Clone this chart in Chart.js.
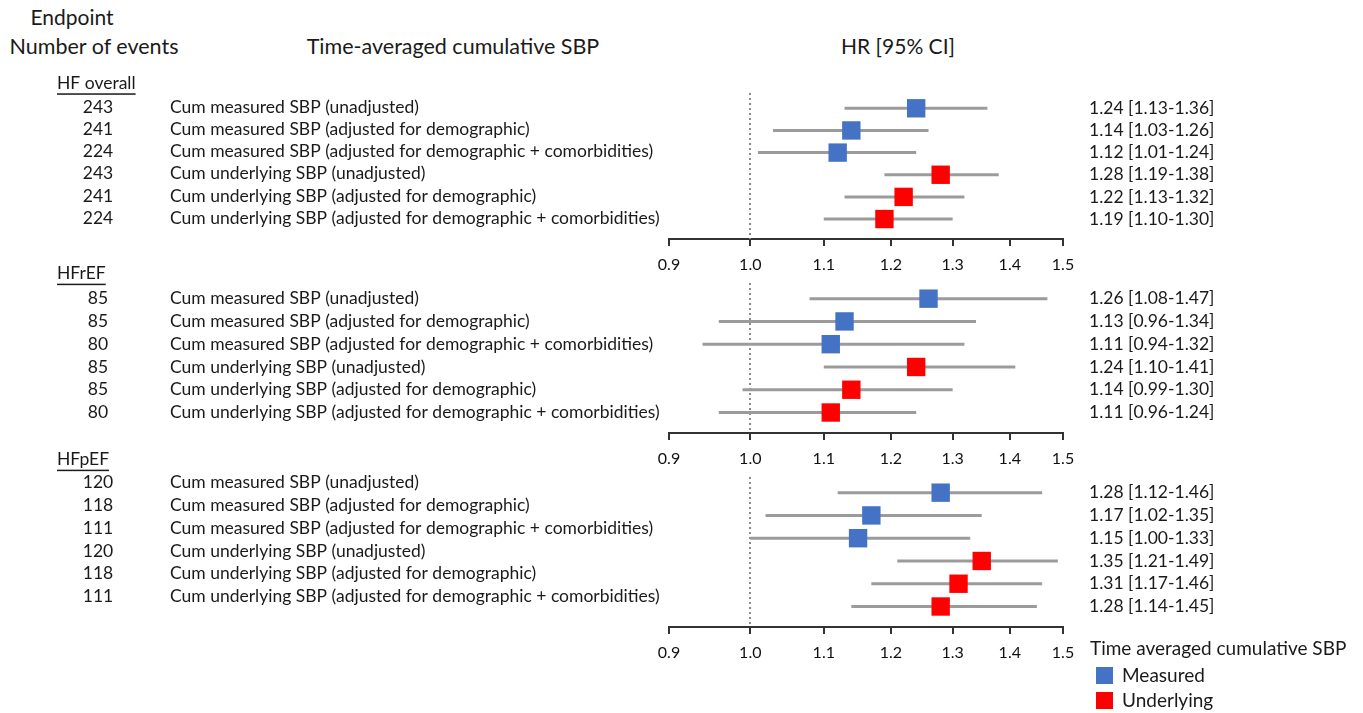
<!DOCTYPE html>
<html>
<head>
<meta charset="utf-8">
<title>Time-averaged cumulative SBP and HF</title>
<script src="https://cdn.jsdelivr.net/npm/chart.js@4.4.0/dist/chart.umd.min.js"></script>
<style>
  body { margin: 0; background: #fff; font-family: Lato, sans-serif; color: #1a1a1a; }
  #page { position: relative; width: 1363px; height: 713px; overflow: hidden; }
  .panel { position: absolute; left: 0; }
  .txt { position: absolute; white-space: nowrap; line-height: 24px; }
  .c { transform: translateX(-50%); }
  .sq { position: absolute; width: 17px; height: 17px; }
</style>
</head>
<body>
<div id="page">
  <div class="txt c" style="left:72px; top:5px; font-size:21px;">Endpoint</div>
  <div class="txt c" style="left:94px; top:34px; font-size:21.5px;">Number of events</div>
  <div class="txt c" style="left:453px; top:34px; font-size:21.5px;">Time-averaged cumulative SBP</div>
  <div class="txt c" style="left:898px; top:34px; font-size:21px;">HR [95% CI]</div>

  <canvas id="p1" class="panel"></canvas>
  <canvas id="p2" class="panel"></canvas>
  <canvas id="p3" class="panel"></canvas>

  <div class="txt" style="left:1090px; top:636px; font-size:19px;">Time averaged cumulative SBP</div>
  <div class="sq" style="left:1096px; top:667px; background:#4472c4;"></div>
  <div class="txt" style="left:1122px; top:663px; font-size:19px;">Measured</div>
  <div class="sq" style="left:1096px; top:692px; background:#ff0000;"></div>
  <div class="txt" style="left:1122px; top:688px; font-size:19px;">Underlying</div>
</div>

<script>
const rowLabels = [
  "Cum measured SBP (unadjusted)",
  "Cum measured SBP (adjusted for demographic)",
  "Cum measured SBP (adjusted for demographic + comorbidities)",
  "Cum underlying SBP (unadjusted)",
  "Cum underlying SBP (adjusted for demographic)",
  "Cum underlying SBP (adjusted for demographic + comorbidities)",
];
const rowType = ["Measured", "Measured", "Measured", "Underlying", "Underlying", "Underlying"];
const xTicks = [0.9, 1.0, 1.1, 1.2, 1.3, 1.4, 1.5];

// HF overall
const overallEvents = [243, 241, 224, 243, 241, 224];
const overallHR = [1.24, 1.14, 1.12, 1.28, 1.22, 1.19];
const overallLo = [1.13, 1.03, 1.01, 1.19, 1.13, 1.10];
const overallHi = [1.36, 1.26, 1.24, 1.38, 1.32, 1.30];

// HFrEF
const hfrefEvents = [85, 85, 80, 85, 85, 80];
const hfrefHR = [1.26, 1.13, 1.11, 1.24, 1.14, 1.11];
const hfrefLo = [1.08, 0.96, 0.94, 1.10, 0.99, 0.96];
const hfrefHi = [1.47, 1.34, 1.32, 1.41, 1.30, 1.24];

// HFpEF
const hfpefEvents = [120, 118, 111, 120, 118, 111];
const hfpefHR = [1.28, 1.17, 1.15, 1.35, 1.31, 1.28];
const hfpefLo = [1.12, 1.02, 1.00, 1.21, 1.17, 1.14];
const hfpefHi = [1.46, 1.35, 1.33, 1.49, 1.46, 1.45];

const colors = { Measured: "#4472c4", Underlying: "#ff0000" };

const panels = [
  { id: "p1", title: "HF overall", events: overallEvents, hr: overallHR, lo: overallLo, hi: overallHi,
    top: 0, areaTop: 95, areaBottom: 239, textShift: -1, titleY: -25 },
  { id: "p2", title: "HFrEF", events: hfrefEvents, hr: hfrefHR, lo: hfrefLo, hi: hfrefHi,
    top: 255, areaTop: 285, areaBottom: 433, textShift: 0, titleY: -25 },
  { id: "p3", title: "HFpEF", events: hfpefEvents, hr: hfpefHR, lo: hfpefLo, hi: hfpefHi,
    top: 440, areaTop: 479, areaBottom: 627, textShift: -10, titleY: -33 },
];

const fmt = (v) => v.toFixed(2);

function sidePlugin(p) {
  return {
    id: "side-" + p.id,
    beforeDatasetsDraw(chart) {
      // dotted reference line at HR = 1
      const { ctx, chartArea, scales } = chart;
      const px = Math.round(scales.x.getPixelForValue(1.0));
      ctx.save();
      ctx.strokeStyle = "#8a8a8a";
      ctx.lineWidth = 2;
      ctx.setLineDash([2, 3]);
      ctx.beginPath();
      ctx.moveTo(px, chartArea.top - 2);
      ctx.lineTo(px, chartArea.bottom);
      ctx.stroke();
      ctx.restore();
    },
    afterDraw(chart) {
      const { ctx, scales: { y } } = chart;
      ctx.save();
      ctx.fillStyle = "#1a1a1a";
      ctx.textBaseline = "middle";
      ctx.font = "17.5px Lato";

      // section title, underlined
      const ty = y.getPixelForValue(0) + p.titleY;
      ctx.textAlign = "left";
      ctx.fillText(p.title, 57, ty);
      const w = ctx.measureText(p.title).width;
      ctx.fillRect(57, ty + 10, w, 1.5);

      p.hr.forEach((v, i) => {
        const py = y.getPixelForValue(i);
        ctx.textAlign = "center";
        ctx.fillText(String(p.events[i]), 98, py + p.textShift);
        ctx.textAlign = "left";
        ctx.fillText(rowLabels[i], 170, py + p.textShift);
        ctx.fillText(`${fmt(v)} [${fmt(p.lo[i])}-${fmt(p.hi[i])}]`, 1089, py);
      });
      ctx.restore();
    },
  };
}

panels.forEach((p) => {
  const canvas = document.getElementById(p.id);
  const height = p.areaBottom - p.top + 40;
  canvas.width = 1363;
  canvas.height = height;
  canvas.style.top = p.top + "px";

  const ciSets = p.hr.map((v, i) => ({
    type: "scatter",
    label: "CI " + i,
    data: [{ x: p.lo[i], y: i }, { x: p.hi[i], y: i }],
    showLine: true,
    borderColor: "#9b9b9b",
    borderWidth: 3,
    pointRadius: 0,
    order: 2,
  }));

  const markerSets = ["Measured", "Underlying"].map((t) => ({
    type: "scatter",
    label: t,
    data: p.hr.map((v, i) => ({ x: v, y: i })).filter((d, i) => rowType[i] === t),
    pointStyle: "rect",
    pointRadius: 13,
    backgroundColor: colors[t],
    borderColor: colors[t],
    borderWidth: 0,
    order: 1,
  }));

  // eslint-disable-next-line no-new
  new Chart(canvas, {
    type: "scatter",
    data: { datasets: [...ciSets, ...markerSets] },
    options: {
      responsive: false,
      animation: false,
      layout: { padding: { left: 669, right: 300, top: p.areaTop - p.top, bottom: 0 } },
      plugins: {
        legend: { display: false },
        tooltip: { enabled: false },
      },
      scales: {
        x: {
          type: "logarithmic",
          min: 0.9,
          max: 1.5,
          afterBuildTicks: (s) => {
            s.ticks = xTicks.map((v) => ({ value: v }));
          },
          afterFit: (s) => {
            s.height = 40;
          },
          ticks: {
            callback: (v) => Number(v).toFixed(1),
            font: { size: 16, family: "Lato" },
            color: "#111",
            padding: 9,
            autoSkip: false,
            maxRotation: 0,
          },
          grid: {
            drawOnChartArea: false,
            drawTicks: true,
            tickLength: 7,
            color: "#333",
            lineWidth: 2,
          },
          border: { display: true, color: "#333", width: 2 },
        },
        y: {
          type: "linear",
          min: -0.6,
          max: 5.9,
          reverse: true,
          display: false,
        },
      },
    },
    plugins: [sidePlugin(p)],
  });
});
</script>
</body>
</html>
